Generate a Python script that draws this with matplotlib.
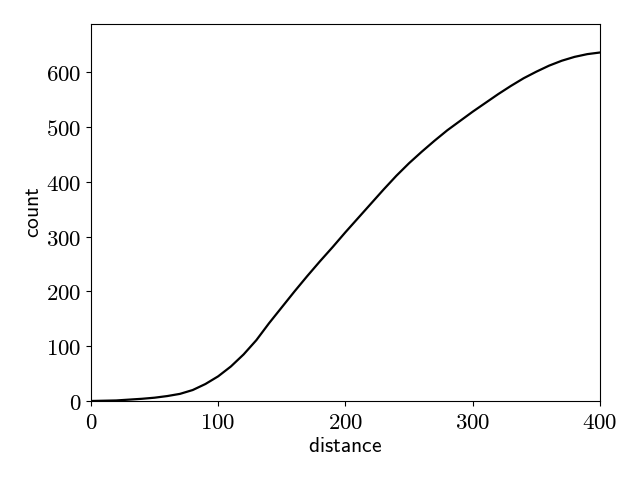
import numpy as np
import matplotlib
matplotlib.use("Agg")
import matplotlib.pyplot as plt
from matplotlib.ticker import FuncFormatter

plt.rcParams['mathtext.fontset'] = 'cm'

# cumulative count vs distance
distance = [0, 10, 20, 30, 40, 50, 60, 70, 80, 90, 100, 110, 120, 130, 140,
            150, 160, 170, 180, 190, 200, 210, 220, 230, 240, 250, 260, 270,
            280, 290, 300, 310, 320, 330, 340, 350, 360, 370, 380, 390, 400]
count = [0, 0.5, 1, 2.5, 4, 6, 9, 13, 20, 31, 45, 63, 85, 111, 142,
         171, 200, 228, 255, 281, 308, 334, 360, 386, 411, 434, 455, 475,
         494, 511, 528, 544, 560, 575, 589, 601, 612, 621, 628, 633, 636]

fig, ax = plt.subplots(figsize=(6.4, 4.8), dpi=100)
ax.plot(distance, count, color='black', linewidth=1.6)

ax.set_xlim(0, 400)
ax.set_ylim(0, 688)
ax.set_xticks([0, 100, 200, 300, 400])
ax.set_yticks([0, 100, 200, 300, 400, 500, 600])
fmt = FuncFormatter(lambda v, p: r'$%d$' % v)
ax.xaxis.set_major_formatter(fmt)
ax.yaxis.set_major_formatter(fmt)
ax.tick_params(labelsize=16.5)

ax.set_xlabel(r'$\mathsf{distance}$', fontsize=15.5, labelpad=2)
ax.set_ylabel(r'$\mathsf{count}$', fontsize=15.5, labelpad=2)

plt.subplots_adjust(left=0.142, right=0.9375, top=0.95, bottom=0.1646)
plt.savefig("out.png")
